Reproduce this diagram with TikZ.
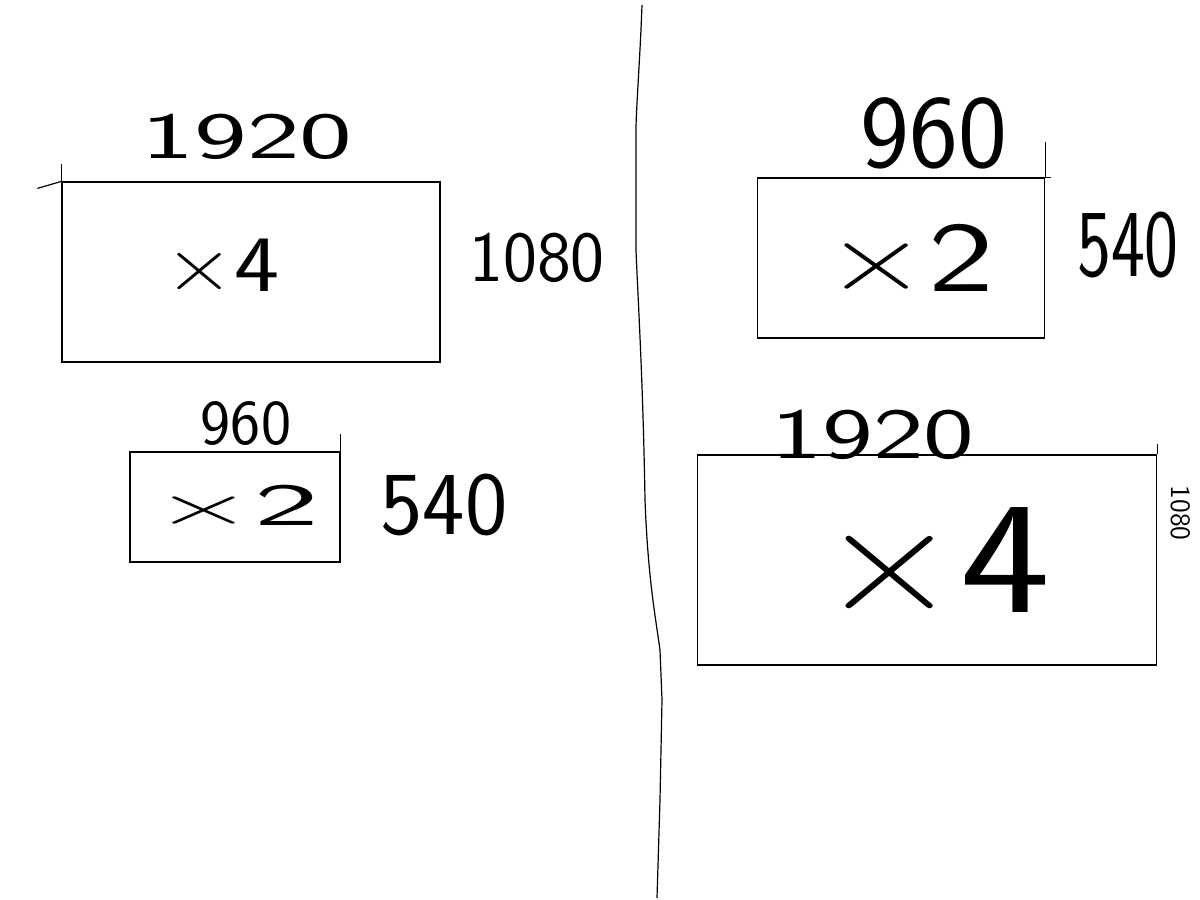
\documentclass[tikz,border=0pt]{standalone}
\begin{document}
\begin{tikzpicture}[x=0.5pt,y=-0.5pt, line width=0.6pt,
  box/.style={draw, rectangle, inner sep=0pt},
  lbl/.style={font=\sffamily\fontsize{#1}{#1}\selectfont, inner sep=0pt}]
\useasboundingbox (0,0) rectangle (1200,900);
\fill[white] (0,0) rectangle (1200,900);
% divider
\draw (642,5) .. controls (640,60) and (636,110) .. (636,130) -- (636,250) .. controls (638,300) and (643,380) .. (645,500) .. controls (648,580) and (656,620) .. (660,650) -- (662,700) -- (660,800) -- (657,898);
% top-left
\node[box, minimum width=189pt, minimum height=90pt] (b1) at (251,272) {};
\draw (b1.north west) -- ++(0,-17);
\draw (b1.north west) -- ++(-24,7);
\node[lbl=40, xscale=1.2] (m1) at (222,265) {×4};
\node[lbl=33, xscale=1.7] (w1) at (247,137) {1920};
\node[lbl=36] (h1) at (537,258) {1080};
% bottom-left
\node[box, minimum width=105pt, minimum height=55pt] (b2) at (235,507) {};
\draw (b2.north east) -- ++(0,-17);
\node[lbl=30, xscale=2.3] (m2) at (236,505) {×2};
\node[lbl=32] (w2) at (246,424) {960};
\node[lbl=45] (h2) at (444,505) {540};
% top-right
\node[box, minimum width=143.5pt, minimum height=80pt] (b3) at (901,258) {};
\draw (b3.north east) -- ++(0,-35);
\draw (b3.north east) -- ++(6,0);
\node[lbl=50, xscale=1.4] (m3) at (910,258) {×2};
\node[lbl=52] (w3) at (934,133) {960};
\node[lbl=48, xscale=0.75] (h3) at (1128,245) {540};
% bottom-right
\node[box, minimum width=229.5pt, minimum height=105pt] (b4) at (927,560) {};
\draw (b4.north east) -- ++(0,-10);
\node[lbl=80, xscale=1.2] (m4) at (935,560) {×4};
\node[lbl=36, xscale=1.5] (w4) at (873,435) {1920};
\node[lbl=14, rotate=-90] (h4) at (1181,513) {1080};
\end{tikzpicture}
\end{document}
